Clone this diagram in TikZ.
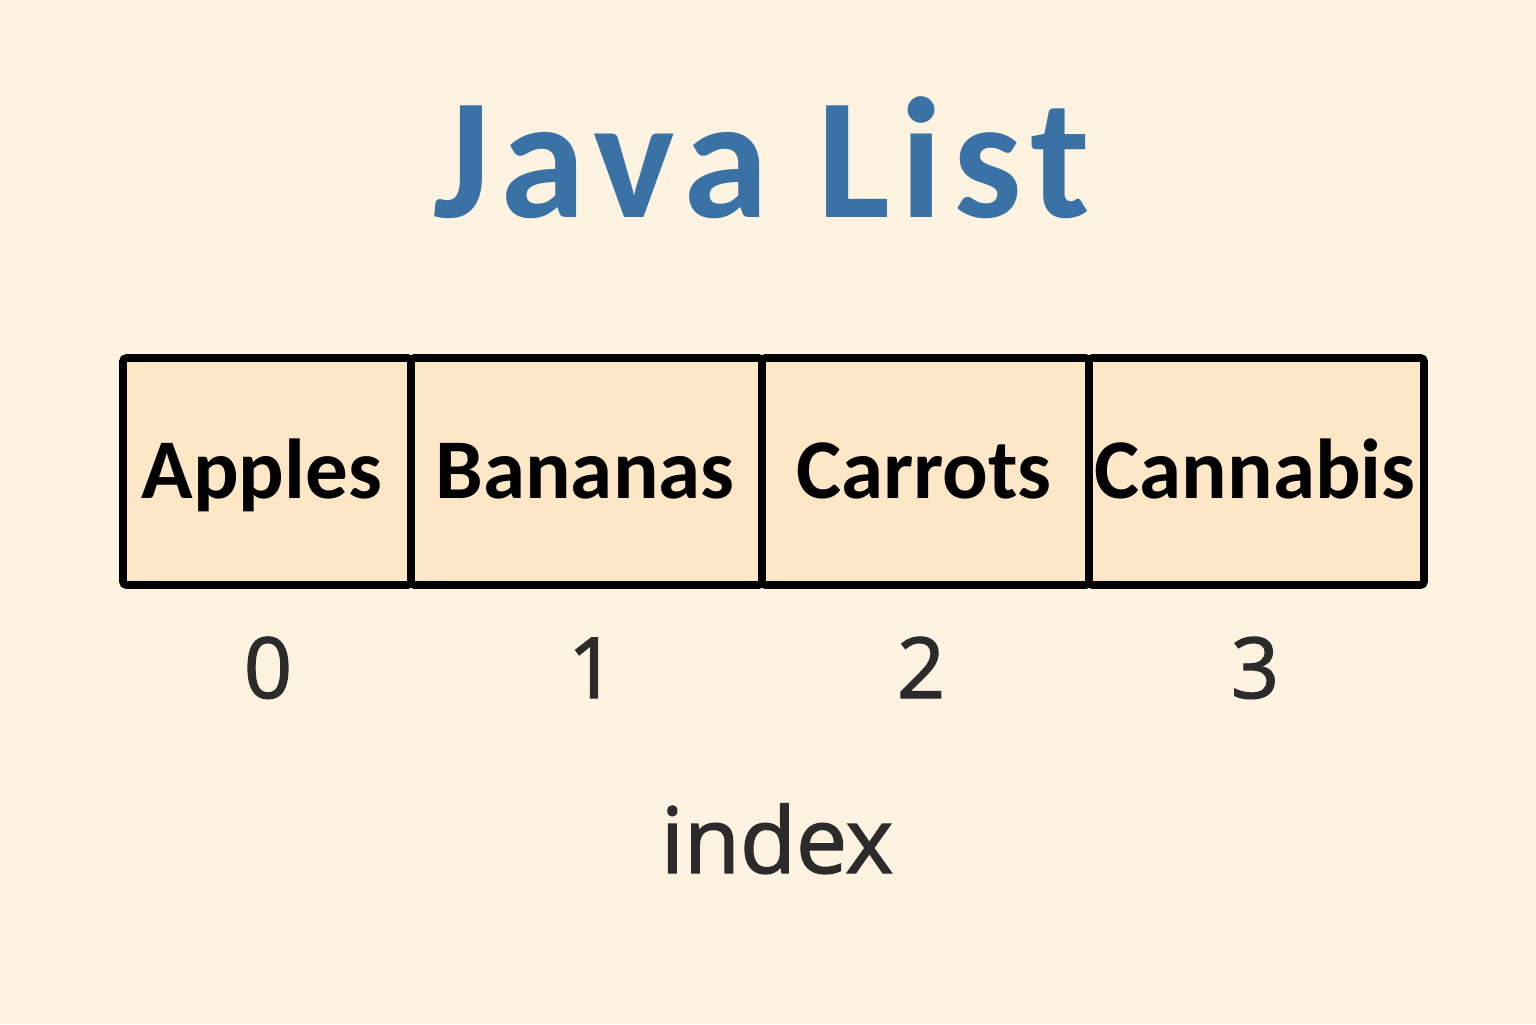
\documentclass[tikz,border=0pt]{standalone}
\usepackage{fontspec}
\setmainfont{Open Sans}
\newfontfamily\cellfont{Carlito}
\newfontfamily\titlefont[LetterSpace=6]{Carlito}
\newfontfamily\idxfont[FakeBold=1.6]{Open Sans}
\definecolor{bgc}{HTML}{FDF3E0}
\definecolor{cellc}{HTML}{FDE7C7}
\definecolor{titlec}{HTML}{3A72A6}
\definecolor{darkc}{HTML}{2B2B2B}
\tikzset{
  cellbox/.style={draw=black, fill=cellc, line width=2.2pt, rounded corners=1pt, minimum height=2.27cm, inner sep=0pt},
  celltext/.style={anchor=base, font=\cellfont\bfseries\fontsize{24.2}{25}\selectfont, text=black, inner sep=0pt},
  idxtext/.style={anchor=base, font=\idxfont\fontsize{24}{24}\selectfont, text=darkc, inner sep=0pt},
}
\begin{document}
\begin{tikzpicture}
\useasboundingbox[fill=bgc] (0,0) rectangle (15.36,10.24);
\node[anchor=base, font=\titlefont\bfseries\fontsize{49}{49}\selectfont, text=titlec, inner sep=0pt] (title) at (7.62,8.06) {Java List};
\node[cellbox, minimum width=2.88cm] (c0) at (2.67,5.525) {};
\node[cellbox, minimum width=3.51cm] (c1) at (5.865,5.525) {};
\node[cellbox, minimum width=3.27cm] (c2) at (9.255,5.525) {};
\node[cellbox, minimum width=3.35cm] (c3) at (12.565,5.525) {};
\node[celltext] (t0) at (2.62,5.26) {Apples};
\node[celltext] (t1) at (5.85,5.26) {Bananas};
\node[celltext] (t2) at (9.24,5.26) {Carrots};
\node[celltext] (t3) at (12.55,5.26) {Cannabis};
\node[idxtext] (i0) at (2.68,3.26) {0};
\node[idxtext] (i1) at (5.92,3.26) {1};
\node[idxtext] (i2) at (9.21,3.26) {2};
\node[idxtext] (i3) at (12.55,3.26) {3};
\node[anchor=base, font=\idxfont\fontsize{26}{26}\selectfont, text=darkc, inner sep=0pt] (index) at (7.77,1.51) {index};
\end{tikzpicture}
\end{document}
